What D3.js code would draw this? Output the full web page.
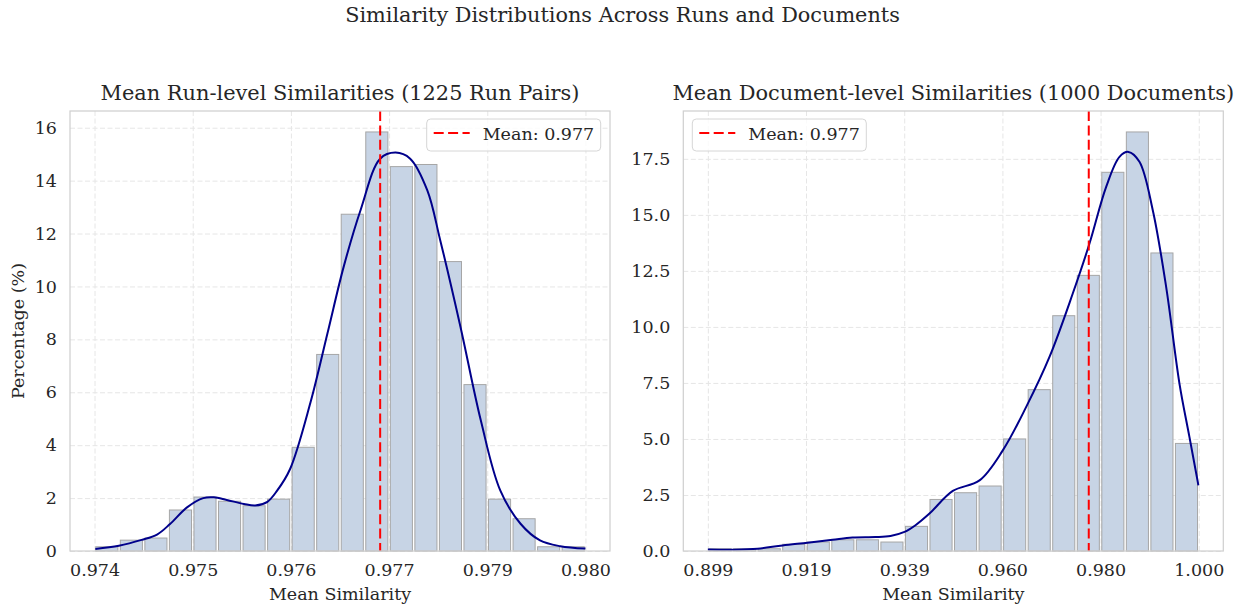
<!DOCTYPE html>
<html><head><meta charset="utf-8">
<script src="https://cdn.jsdelivr.net/npm/d3@7"></script>
<style>
body{margin:0;background:#fff}
text{font-family:"DejaVu Serif",serif;fill:#262626}
</style>
</head><body>
<svg id="chart" width="1245" height="608"></svg>
<script>
// ---------- DATA ----------
const suptitle = "Similarity Distributions Across Runs and Documents";

// Left panel: run-level
const runTitle = "Mean Run-level Similarities (1225 Run Pairs)";
const runRange = [0.97385, 0.9799];           // histogram min / max
const runPercent = [0.16, 0.41, 0.49, 1.55, 2.04, 1.88, 1.71, 1.96, 3.92, 7.43,
                    12.73, 15.84, 14.53, 14.61, 10.94, 6.29, 1.96, 1.22, 0.16, 0.16];
const runTickValues = [0.97385, 0.97506, 0.97627, 0.97748, 0.97869, 0.9799];
const runTickLabels = ["0.974", "0.975", "0.976", "0.977", "0.979", "0.980"];
const runYTicks = [0, 2, 4, 6, 8, 10, 12, 14, 16];
const runMean = 0.97737;
const runKdeX = [0.97386, 0.97415, 0.97443, 0.97462, 0.97478, 0.97499, 0.97519, 0.97532, 0.97548,
                 0.97569, 0.97583, 0.97598, 0.97610, 0.97626, 0.97651, 0.97672, 0.97692, 0.97713,
                 0.97737, 0.97756, 0.97774, 0.97795, 0.97811, 0.97836, 0.97861, 0.97885, 0.97910,
                 0.97934, 0.97959, 0.97990];
const runKdeY = [0.08, 0.20, 0.42, 0.62, 1.02, 1.65, 2.00, 2.03, 1.93,
                 1.78, 1.72, 1.86, 2.28, 3.10, 5.60, 8.22, 10.74, 12.90,
                 14.83, 15.06, 14.83, 13.64, 11.75, 8.47, 4.94, 2.29, 1.03,
                 0.40, 0.18, 0.09];

// Right panel: document-level
const docTitle = "Mean Document-level Similarities (1000 Documents)";
const docRange = [0.899, 1.0];
const docPercent = [0.1, 0.1, 0.1, 0.3, 0.4, 0.5, 0.5, 0.4, 1.1, 2.3,
                    2.6, 2.9, 5.0, 7.2, 10.5, 12.3, 16.9, 18.7, 13.3, 4.8];
const docTickValues = [0.899, 0.9192, 0.9394, 0.9596, 0.9798, 1.0];
const docTickLabels = ["0.899", "0.919", "0.939", "0.960", "0.980", "1.000"];
const docYTicks = [0, 2.5, 5, 7.5, 10, 12.5, 15, 17.5];
const docMean = 0.97737;
const docKdeX = [0.8990, 0.90408, 0.90922, 0.91437, 0.91951, 0.92465, 0.92876, 0.93350, 0.93658,
                 0.93946, 0.94172, 0.94460, 0.94940, 0.95489, 0.95968, 0.96450, 0.96929, 0.97408,
                 0.97752, 0.98095, 0.98369, 0.98554, 0.98780, 0.99054, 0.99329, 0.99603, 0.99808, 0.99993];
const docKdeY = [0.07, 0.06, 0.10, 0.25, 0.37, 0.50, 0.60, 0.62, 0.67,
                 0.85, 1.15, 1.67, 2.68, 3.15, 4.49, 6.43, 8.66, 11.49,
                 13.72, 16.25, 17.59, 17.81, 17.37, 15.21, 11.79, 7.47, 5.09, 2.93];

const meanLabel = "Mean: 0.977";
const yLabel = "Percentage (%)";
const xLabel = "Mean Similarity";

// ---------- DRAW ----------
const svg = d3.select("#chart");
svg.append("text").attr("x", 622.5).attr("y", 22).attr("text-anchor", "middle")
  .style("font-size", "20.8px").text(suptitle);

function panel(o) {
  const g = svg.append("g");
  const [lo, hi] = o.range;
  const pad = (hi - lo) * 0.05;
  const x = d3.scaleLinear().domain([lo - pad, hi + pad]).range([o.left, o.right]);
  const yMax = d3.max(o.percent) * 1.05;
  const y = d3.scaleLinear().domain([0, yMax]).range([o.bottom, o.top]);

  // grid
  const gridX = d3.axisBottom(x).tickValues(o.tickValues).tickSize(-(o.bottom - o.top)).tickFormat("");
  g.append("g").attr("transform", `translate(0,${o.bottom})`).call(gridX)
    .call(s => { s.select(".domain").remove();
      s.selectAll("line").attr("stroke", "#e6e6e6").attr("stroke-width", 1).attr("stroke-dasharray", "5,2.5"); });
  const gridY = d3.axisLeft(y).tickValues(o.yTicks).tickSize(-(o.right - o.left)).tickFormat("");
  g.append("g").attr("transform", `translate(${o.left},0)`).call(gridY)
    .call(s => { s.select(".domain").remove();
      s.selectAll("line").attr("stroke", "#e6e6e6").attr("stroke-width", 1).attr("stroke-dasharray", "5,2.5"); });

  // bars
  const n = o.percent.length;
  const bw = (hi - lo) / n;
  const shrink = 0.9;
  g.append("g").selectAll("rect").data(o.percent).join("rect")
    .attr("x", (d, i) => x(lo + i * bw + bw * (1 - shrink) / 2))
    .attr("width", (d, i) => x(lo + (i + 1) * bw) - x(lo + i * bw) - (x(lo + bw) - x(lo)) * (1 - shrink))
    .attr("y", d => y(d))
    .attr("height", d => y(0) - y(d))
    .attr("fill", "#c7d4e5")
    .attr("stroke", "#a6a6a6")
    .attr("stroke-width", 1);

  // KDE
  const line = d3.line().x(d => x(d[0])).y(d => y(d[1])).curve(d3.curveCatmullRom.alpha(0.5));
  g.append("path").datum(o.kdeX.map((v, i) => [v, o.kdeY[i]]))
    .attr("d", line).attr("fill", "none").attr("stroke", "#00008b").attr("stroke-width", 2);

  // mean line
  g.append("line").attr("x1", x(o.mean)).attr("x2", x(o.mean)).attr("y1", o.top).attr("y2", o.bottom)
    .attr("stroke", "#ff0000").attr("stroke-width", 2).attr("stroke-dasharray", "10,4.4");

  // frame
  g.append("rect").attr("x", o.left).attr("y", o.top).attr("width", o.right - o.left).attr("height", o.bottom - o.top)
    .attr("fill", "none").attr("stroke", "#d0d0d0").attr("stroke-width", 1.25);

  // tick labels
  const xa = d3.axisBottom(x).tickValues(o.tickValues).tickSize(0).tickPadding(0)
    .tickFormat((d, i) => o.tickLabels[i]);
  g.append("g").attr("transform", `translate(0,${o.bottom})`).call(xa)
    .call(s => { s.select(".domain").remove();
      s.selectAll("text").attr("y", 25).attr("dy", null).style("font-size", "17.5px")
        .style("font-family", '"DejaVu Serif",serif').attr("fill", "#262626"); });
  const ya = d3.axisLeft(y).tickValues(o.yTicks).tickSize(0).tickPadding(13)
    .tickFormat(o.yFormat);
  g.append("g").attr("transform", `translate(${o.left},0)`).call(ya)
    .call(s => { s.select(".domain").remove();
      s.selectAll("text").style("font-size", "17.5px")
        .style("font-family", '"DejaVu Serif",serif').attr("fill", "#262626"); });

  // titles
  g.append("text").attr("x", (o.left + o.right) / 2).attr("y", 100).attr("text-anchor", "middle")
    .style("font-size", "20.9px").text(o.title);
  g.append("text").attr("x", (o.left + o.right) / 2).attr("y", 600).attr("text-anchor", "middle")
    .style("font-size", "17.5px").text(xLabel);
  if (o.showYLabel) {
    g.append("text").attr("transform", `translate(24,${(o.top + o.bottom) / 2}) rotate(-90)`)
      .attr("text-anchor", "middle").style("font-size", "17.5px").text(yLabel);
  }

  // legend
  const lg = g.append("g").attr("transform", `translate(${o.legendX},119)`);
  lg.append("rect").attr("width", 174).attr("height", 32).attr("rx", 4)
    .attr("fill", "#ffffff").attr("fill-opacity", 0.8).attr("stroke", "#d6d6d6").attr("stroke-width", 1);
  lg.append("line").attr("x1", 7).attr("x2", 43).attr("y1", 14).attr("y2", 14)
    .attr("stroke", "#ff0000").attr("stroke-width", 2).attr("stroke-dasharray", "10,4.4");
  lg.append("text").attr("x", 56).attr("y", 20.5).style("font-size", "17.5px").text(meanLabel);
}

panel({left: 70, right: 610, top: 111, bottom: 551, range: runRange, percent: runPercent,
  tickValues: runTickValues, tickLabels: runTickLabels, yTicks: runYTicks, yFormat: d3.format("d"),
  mean: runMean, kdeX: runKdeX, kdeY: runKdeY, title: runTitle, showYLabel: true, legendX: 426.7});
panel({left: 683.3, right: 1223.3, top: 111, bottom: 551, range: docRange, percent: docPercent,
  tickValues: docTickValues, tickLabels: docTickLabels, yTicks: docYTicks, yFormat: d3.format(".1f"),
  mean: docMean, kdeX: docKdeX, kdeY: docKdeY, title: docTitle, showYLabel: false, legendX: 692.3});
</script>
</body></html>
